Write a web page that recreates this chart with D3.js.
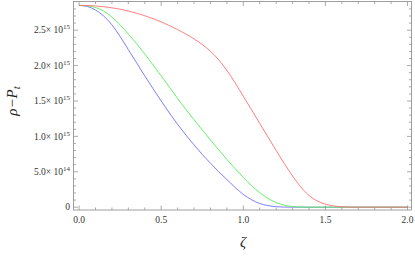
<!DOCTYPE html>
<html><head><meta charset="utf-8">
<script src="https://cdn.jsdelivr.net/npm/d3@7"></script>
<style>body{margin:0;background:#fff}svg{display:block}</style>
</head><body>
<script>
// zeta grid and series values (in units of 1e15)
const zeta  = [0,0.05,0.1,0.15,0.2,0.25,0.3,0.35,0.4,0.45,0.5,0.55,0.6,0.65,0.7,0.75,0.8,0.85,0.9,0.95,1.0,1.05,1.1,1.15,1.2,1.25,1.3,1.35,1.4,1.45,1.5,1.55,1.6,1.65,1.7,1.8,1.9,2.0];
const blue  = [2.85,2.835,2.785,2.70,2.575,2.41,2.225,2.04,1.855,1.675,1.50,1.33,1.17,1.02,0.88,0.745,0.62,0.50,0.39,0.28,0.18,0.105,0.052,0.022,0.007,0.001,0,0,0,0,0,0,0,0,0,0,0,0];
const green = [2.85,2.845,2.82,2.77,2.685,2.575,2.445,2.31,2.165,2.01,1.855,1.695,1.535,1.38,1.235,1.09,0.95,0.81,0.675,0.545,0.42,0.305,0.205,0.125,0.065,0.028,0.009,0.002,0,0,0,0,0,0,0,0,0,0];
const red   = [2.85,2.848,2.842,2.831,2.816,2.796,2.770,2.740,2.704,2.663,2.617,2.565,2.508,2.445,2.377,2.297,2.202,2.082,1.932,1.757,1.567,1.375,1.183,0.991,0.80,0.615,0.44,0.285,0.165,0.088,0.043,0.018,0.006,0.001,0,0,0,0];
const xTicks = [0,0.5,1.0,1.5,2.0];
const xTickLabels = ["0.0","0.5","1.0","1.5","2.0"];
const yTicks = [0,0.5,1.0,1.5,2.0,2.5];
const yTickMant = ["0","5.0","1.0","1.5","2.0","2.5"];
const yTickExp  = ["","14","15","15","15","15"];

const W=415,H=256;
const svg=d3.select("body").append("svg").attr("width",W).attr("height",H);
const L=73.5,R=411.5,T=1.5,B=210;
const x=d3.scaleLinear().domain([-0.034,2.024]).range([L,R]);
const y=d3.scaleLinear().domain([-0.04,2.905]).range([B,T]);
const frameCol="#888";
const font="'Liberation Serif','DejaVu Serif',serif";

const g=svg.append("g");
// curves
const series=[{v:blue,c:"#7070ff"},{v:green,c:"#55ee55"},{v:red,c:"#ff7070"}];
const line=d3.line().x((d,i)=>x(zeta[i])).y(d=>y(d)).curve(d3.curveMonotoneX);
series.forEach(s=>{
  g.append("path").attr("d",line(s.v)).attr("fill","none").attr("stroke",s.c).attr("stroke-width",0.9);
});
// frame
g.append("rect").attr("x",L).attr("y",T).attr("width",R-L).attr("height",B-T)
 .attr("fill","none").attr("stroke",frameCol).attr("stroke-width",0.8);

// ticks (major + minor), inward on all four sides
const xMinor=d3.range(0,2.0001,0.1);
xMinor.forEach(v=>{
  const major=xTicks.some(t=>Math.abs(t-v)<1e-6);
  const len=major?4.5:2.5;
  g.append("line").attr("x1",x(v)).attr("x2",x(v)).attr("y1",B).attr("y2",B-len).attr("stroke",frameCol).attr("stroke-width",0.7);
  g.append("line").attr("x1",x(v)).attr("x2",x(v)).attr("y1",T).attr("y2",T+len).attr("stroke",frameCol).attr("stroke-width",0.7);
});
const yMinor=d3.range(0,2.9,0.1);
yMinor.forEach(v=>{
  const major=yTicks.some(t=>Math.abs(t-v)<1e-6);
  const len=major?4.5:2.5;
  g.append("line").attr("y1",y(v)).attr("y2",y(v)).attr("x1",L).attr("x2",L+len).attr("stroke",frameCol).attr("stroke-width",0.7);
  g.append("line").attr("y1",y(v)).attr("y2",y(v)).attr("x1",R).attr("x2",R-len).attr("stroke",frameCol).attr("stroke-width",0.7);
});
// x tick labels
xTicks.forEach((v,i)=>{
  g.append("text").attr("x",x(v)).attr("y",223).attr("text-anchor","middle")
   .attr("font-family",font).attr("font-size",9.5).attr("fill","#333").text(xTickLabels[i]);
});
// y tick labels
yTicks.forEach((v,i)=>{
  const t=g.append("text").attr("x",70).attr("y",y(v)+3.2).attr("text-anchor","end")
   .attr("font-family",font).attr("font-size",9.5).attr("fill","#333");
  if(yTickExp[i]===""){ t.text(yTickMant[i]); }
  else{
    t.append("tspan").text(yTickMant[i]+"\u00d7 10");
    t.append("tspan").attr("dy",-4).attr("font-size",7).text(yTickExp[i]);
  }
});
// axis labels
svg.append("text").attr("transform","translate(17,101) rotate(-90)").attr("text-anchor","middle")
  .attr("font-family",font).attr("font-style","italic").attr("font-size",15).attr("fill","#222")
  .call(t=>{
    t.append("tspan").text("\u03c1\u2212P");
    t.append("tspan").attr("dy",3).attr("font-size",11).text("t");
  });
svg.append("text").attr("x",243).attr("y",247).attr("text-anchor","middle")
  .attr("font-family",font).attr("font-style","italic").attr("font-size",15).attr("fill","#222").text("\u03b6");
</script>
</body></html>
